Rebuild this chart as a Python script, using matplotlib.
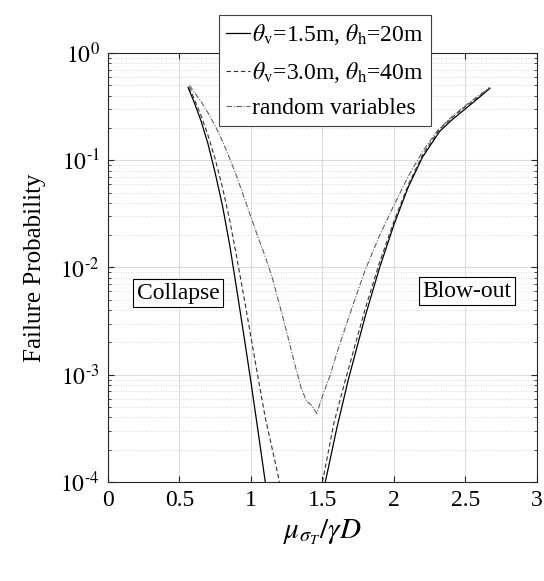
import numpy as np
import matplotlib
matplotlib.use("Agg")
import matplotlib.pyplot as plt
from matplotlib.ticker import LogLocator, FixedLocator, NullFormatter, FuncFormatter

plt.rcParams['font.family'] = ['Liberation Serif', 'DejaVu Serif']
plt.rcParams['mathtext.fontset'] = 'stix'

# (x = mu/gammaD, log10 of failure probability)
# left (collapse) and right (blow-out) branches kept apart
x_solid_l = [0.56, 0.6, 0.65, 0.7, 0.75, 0.8, 0.85, 0.9, 0.95, 1.0, 1.05, 1.1]
lp_solid_l = [-0.32, -0.45, -0.63, -0.85, -1.12, -1.42, -1.78, -2.2, -2.63, -3.07, -3.53, -4.0]
x_solid_r = [1.52, 1.6, 1.68, 1.8, 1.9, 2.0, 2.1, 2.2, 2.32, 2.4, 2.5, 2.6, 2.67]
lp_solid_r = [-4.0, -3.5, -3.05, -2.45, -2.0, -1.6, -1.25, -0.97, -0.73, -0.63, -0.52, -0.41, -0.33]

x_dash_l = [0.57, 0.6, 0.65, 0.7, 0.75, 0.8, 0.85, 0.9, 0.95, 1.0, 1.05, 1.1, 1.15, 1.2]
lp_dash_l = [-0.32, -0.42, -0.58, -0.77, -0.99, -1.25, -1.55, -1.9, -2.27, -2.65, -3.03, -3.4, -3.7, -4.0]
x_dash_r = [1.50, 1.58, 1.66, 1.8, 1.9, 2.0, 2.1, 2.2, 2.32, 2.4, 2.5, 2.6, 2.67]
lp_dash_r = [-4.0, -3.45, -3.05, -2.38, -1.95, -1.57, -1.23, -0.95, -0.71, -0.61, -0.5, -0.4, -0.33]

x_rand = [0.57, 0.6, 0.65, 0.7, 0.75, 0.8, 0.85, 0.9, 0.95, 1.0, 1.05, 1.1, 1.15, 1.2, 1.25,
          1.3, 1.35, 1.39, 1.42, 1.46, 1.5, 1.55, 1.6, 1.7, 1.8, 1.9, 2.0, 2.1, 2.2, 2.3,
          2.4, 2.5, 2.6, 2.67]
lp_rand = [-0.3, -0.36, -0.45, -0.56, -0.68, -0.82, -0.98, -1.15, -1.34, -1.53, -1.72, -1.9, -2.1,
           -2.35, -2.6, -2.87, -3.12, -3.25, -3.28, -3.36, -3.2, -3.02, -2.8, -2.4, -2.02, -1.7,
           -1.42, -1.15, -0.92, -0.73, -0.6, -0.49, -0.39, -0.32]

labels = [r'$\theta_{\rm v}$=1.5m, $\theta_{\rm h}$=20m',
          r'$\theta_{\rm v}$=3.0m, $\theta_{\rm h}$=40m',
          'random variables']
xticks = [0, 0.5, 1, 1.5, 2, 2.5, 3]
xticklabels = ['0', '0.5', '1', '1.5', '2', '2.5', '3']


def join(xl, yl, xr, yr):
    x = np.concatenate([xl, [np.nan], xr])
    y = np.concatenate([10 ** np.array(yl), [np.nan], 10 ** np.array(yr)])
    return x, y


def dec_label(v, pos):
    e = int(round(np.log10(v)))
    return r'$10^{0}$' if e == 0 else r'$10^{\text{-}%d}$' % -e


fig = plt.figure(figsize=(5.44, 5.81), dpi=100)
ax = fig.add_axes([0.1985, 0.1704, 0.7885, 0.7384])

xs, ys = join(x_solid_l, lp_solid_l, x_solid_r, lp_solid_r)
xd, yd = join(x_dash_l, lp_dash_l, x_dash_r, lp_dash_r)
ax.plot(xs, ys, color='black', lw=0.9, ls='-', label=labels[0])
ax.plot(xd, yd, color='#303030', lw=0.8, ls=(0, (4, 2.5)), label=labels[1])
ax.plot(x_rand, 10 ** np.array(lp_rand), color='#606060', lw=0.8,
        ls=(0, (5, 1.5, 1, 1.5)), label=labels[2])

ax.set_yscale('log')
ax.set_xlim(0, 3)
ax.set_ylim(1e-4, 1)
ax.xaxis.set_major_locator(FixedLocator(xticks))
ax.set_xticklabels(xticklabels)
ax.yaxis.set_major_locator(LogLocator(base=10, numticks=10))
ax.yaxis.set_major_formatter(FuncFormatter(dec_label))
ax.yaxis.set_minor_locator(LogLocator(base=10, subs=np.arange(2, 10), numticks=20))
ax.yaxis.set_minor_formatter(NullFormatter())

ax.grid(True, which='major', color='#dcdcdc', lw=0.8, ls='-')
ax.grid(True, which='minor', axis='y', color='#cfcfcf', lw=0.6, ls=(0, (1, 2)))
ax.set_axisbelow(True)

ax.tick_params(which='both', direction='in', top=True, right=True, labelsize=17,
               colors='#262626', labelcolor='black')
ax.tick_params(which='major', length=4.5, width=0.8, pad=6)
ax.tick_params(which='minor', length=2.5, width=0.6)
for s in ax.spines.values():
    s.set_color('#262626')
    s.set_linewidth(0.8)

ax.set_xlabel(r'$\mu_{\sigma_T}/\gamma D$', fontsize=21, labelpad=4)
ax.set_ylabel('Failure Probability', fontsize=18, labelpad=10)

box = dict(boxstyle='square,pad=0.15', facecolor='white', edgecolor='black', lw=0.8)
ax.text(0.49, 10 ** -2.24, 'Collapse', fontsize=17, ha='center', va='center', bbox=box)
ax.text(2.51, 10 ** -2.22, 'Blow-out', fontsize=17, ha='center', va='center', bbox=box)

leg = ax.legend(loc='upper left', bbox_to_anchor=(0.259, 1.089), fontsize=17,
                handlelength=1.0, handletextpad=0.1, borderpad=0.3, labelspacing=0.55,
                borderaxespad=0, frameon=True, fancybox=False, framealpha=1)
leg.get_frame().set_edgecolor('#404040')
leg.get_frame().set_linewidth(0.8)

fig.savefig('out.png', dpi=100)
